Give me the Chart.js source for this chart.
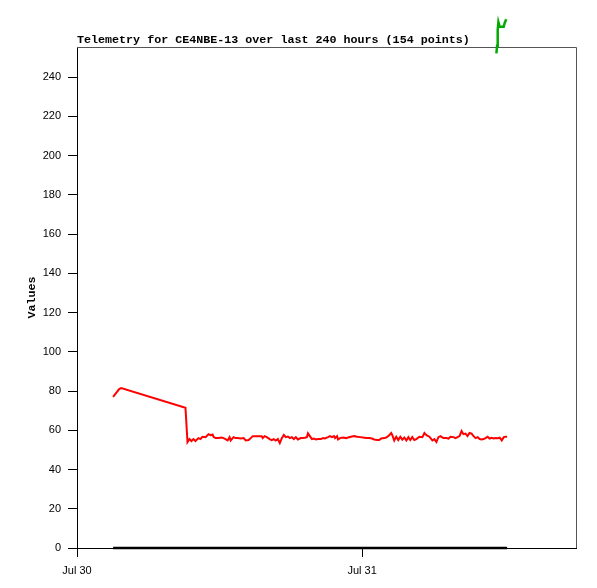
<!DOCTYPE html>
<html>
<head>
<meta charset="utf-8">
<script src="https://cdn.jsdelivr.net/npm/chart.js@4"></script>
<style>
  html, body { margin: 0; padding: 0; background: #fff; }
  #wrap { width: 597px; height: 588px; }
</style>
</head>
<body>
<div id="wrap"><canvas id="telemChart" width="597" height="588"></canvas></div>
<script>
// hours since Jul 30 00:00
const xTickHours = [0, 24];
const xTickLabels = ['Jul 30', 'Jul 31'];
const xMaxHours = 42.0;
const yMax = 255.3;

const redHours = [3.04, 3.3, 3.55, 3.72, 9.13,
  9.3, 9.46, 9.63, 9.8, 9.97, 10.22, 10.39, 10.56, 10.82, 11.07, 11.24, 11.41, 11.49, 11.66, 11.91,
  12.17, 12.34, 12.5, 12.68, 12.84, 12.93, 13.18, 13.35, 13.52, 13.77, 14.03, 14.2, 14.45, 14.62, 14.79,
  15.04, 15.29, 15.55, 15.63, 15.8, 15.97, 16.22, 16.39, 16.56, 16.73, 16.9, 17.07, 17.24, 17.41, 17.58,
  17.75, 17.92, 18.08, 18.25, 18.42, 18.59, 18.84, 19.01, 19.18, 19.35, 19.44, 19.6, 19.77, 19.94, 20.11,
  20.28, 20.53, 20.7, 20.87, 21.13, 21.29, 21.46, 21.63, 21.72, 21.89, 21.97, 22.14, 22.39, 22.65, 22.82,
  23.07, 23.32, 23.58, 23.83, 24.08, 24.34, 24.59, 24.84, 25.01, 25.27, 25.44, 25.61, 25.86, 26.03, 26.28,
  26.45, 26.54, 26.7, 26.87, 27.04, 27.21, 27.38, 27.55, 27.72, 27.89, 28.05, 28.22, 28.39, 28.56, 28.82,
  29.07, 29.24, 29.41, 29.66, 29.91, 30.08, 30.25, 30.42, 30.59, 30.84, 31.1, 31.27, 31.43, 31.69, 31.86,
  32.03, 32.2, 32.37, 32.53, 32.7, 32.87, 33.04, 33.21, 33.38, 33.55, 33.72, 33.89, 34.06, 34.22, 34.39,
  34.56, 34.73, 34.9, 35.07, 35.24, 35.41, 35.58, 35.75, 35.92, 36.08, 36.2];
const redValues = [77, 79, 81, 81.5, 71.5,
  54, 55.5, 54.5, 55.5, 54.5, 56, 55.5, 56.7, 56.5, 58, 57.5, 57.8, 56.7, 56, 56,
  56.3, 56, 55.5, 54.8, 56.5, 54.8, 56.5, 56, 56, 55.8, 56, 54.8, 55, 56, 57,
  57, 57, 57, 56, 57, 56.5, 55.5, 55, 55.5, 54.8, 55.5, 53.5, 56, 57.6, 56.5,
  56.8, 56, 56.5, 55.5, 56.5, 55.3, 56, 56, 56.2, 56.5, 58.4, 57, 55.5, 55.8, 55.3,
  55.5, 55.5, 56, 55.8, 56.5, 57, 56.5, 57, 56, 57, 55.3, 56, 56.3, 56, 56.3,
  56.7, 57, 56.7, 56.5, 56.3, 56, 56, 55.8, 55.3, 55, 55, 55.8, 56, 56.3, 57.5,
  58.6, 57.5, 54.8, 56.7, 55, 56.7, 55.2, 56.3, 54.8, 56.5, 55, 56.5, 55, 55.5, 56.7,
  56.5, 58.6, 57.5, 56.7, 54.8, 55.5, 54, 56.5, 57, 56, 56, 55.7, 56.7, 56.5, 56,
  56.5, 57, 59.6, 58, 58.3, 57, 58.6, 58.3, 57, 56, 56.5, 55.5, 55.3, 55.5, 56,
  56.7, 55.8, 56.2, 55.8, 56, 55.9, 56.2, 54.8, 56.5, 56.7, 56.7];

const greenHours = [35.3, 35.36, 35.41, 35.47, 35.58, 35.91, 35.99, 36.13];
const greenValues = [252, 256, 264, 268, 265.6, 265.6, 267.4, 269.4];

const blackHours = [3.04, 12.0, 24.0, 36.2];
const blackValues = [0, 0, 0, 0];

function pts(hours, values) {
  return hours.map((h, i) => ({x: h, y: values[i]}));
}

const titleText = 'Telemetry for CE4NBE-13 over last 240 hours (154 points)';

const frameAndTitle = {
  id: 'frameAndTitle',
  beforeDatasetsDraw(chart) {
    const {ctx, chartArea} = chart;
    ctx.save();
    ctx.strokeStyle = '#555555';
    ctx.lineWidth = 1;
    ctx.beginPath();
    ctx.moveTo(chartArea.left, chartArea.top + 0.5);
    ctx.lineTo(chartArea.right + 0.5, chartArea.top + 0.5);
    ctx.lineTo(chartArea.right + 0.5, chartArea.bottom);
    ctx.stroke();
    ctx.fillStyle = '#000';
    ctx.font = 'bold 11.7px "Liberation Mono", "DejaVu Sans Mono", monospace';
    ctx.textAlign = 'left';
    ctx.textBaseline = 'alphabetic';
    ctx.fillText(titleText, chartArea.left, chartArea.top - 4);
    ctx.restore();
  }
};

const ctx = document.getElementById('telemChart');
new Chart(ctx, {
  type: 'line',
  data: {
    datasets: [
      {
        label: 'red',
        data: pts(redHours, redValues),
        borderColor: '#ff0000',
        borderWidth: 2,
        pointRadius: 0,
        tension: 0,
      },
      {
        label: 'green',
        data: pts(greenHours, greenValues),
        borderColor: '#00aa00',
        borderWidth: 2.5,
        pointRadius: 0,
        tension: 0,
        clip: false,
      },
      {
        label: 'black',
        data: pts(blackHours, blackValues),
        borderColor: '#000000',
        borderWidth: 2.5,
        pointRadius: 0,
        tension: 0,
        clip: false,
      }
    ]
  },
  options: {
    responsive: false,
    animation: false,
    layout: { padding: { left: 0, right: 21, top: 47, bottom: 0 } },
    scales: {
      x: {
        type: 'linear',
        min: 0,
        max: xMaxHours,
        afterBuildTicks: (scale) => {
          scale.ticks = xTickHours.map(v => ({value: v}));
        },
        afterFit: (scale) => { scale.height = 40; },
        ticks: {
          autoSkip: false,
          maxRotation: 0,
          padding: 7,
          color: '#000',
          font: { family: '"Liberation Sans", sans-serif', size: 11 },
          callback: (v) => xTickLabels[xTickHours.indexOf(v)],
        },
        grid: {
          drawOnChartArea: false,
          tickLength: 9,
          color: '#000',
        },
        border: { color: '#000', width: 1 },
      },
      y: {
        min: 0,
        max: yMax,
        afterBuildTicks: (scale) => {
          scale.ticks = scale.ticks.filter(t => t.value % 20 === 0);
        },
        afterFit: (scale) => { scale.width = 77; },
        ticks: {
          stepSize: 20,
          padding: 7,
          color: '#000',
          font: { family: '"Liberation Sans", sans-serif', size: 11 },
        },
        grid: {
          drawOnChartArea: false,
          tickLength: 9,
          color: '#000',
        },
        border: { color: '#000', width: 1 },
        title: {
          display: true,
          text: 'Values',
          color: '#000',
          padding: { top: 25, bottom: 0 },
          font: { family: '"Liberation Mono", "DejaVu Sans Mono", monospace', size: 11.7, weight: 'bold' },
        }
      }
    },
    plugins: {
      legend: { display: false },
      title: { display: false },
      tooltip: { enabled: false },
    }
  },
  plugins: [frameAndTitle],
});
</script>
</body>
</html>
